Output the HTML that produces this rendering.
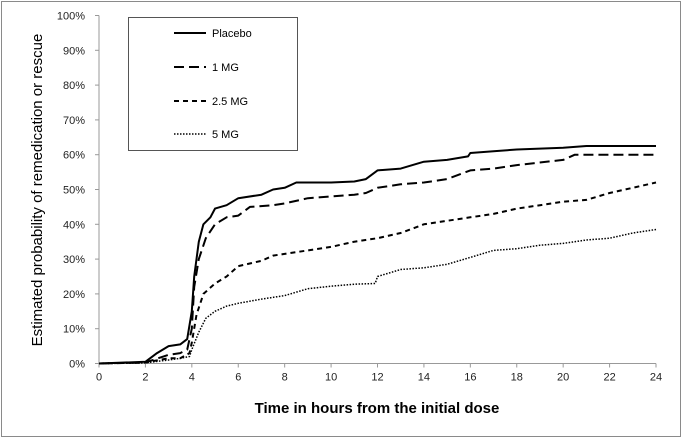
<!DOCTYPE html>
<html><head><meta charset="utf-8">
<style>
html,body{margin:0;padding:0;background:#fff;}
svg{display:block;font-family:"Liberation Sans",sans-serif;}
</style></head>
<body>
<svg id="chart" width="684" height="440" viewBox="0 0 684 440">
<rect x="1.5" y="1.5" width="679" height="435" fill="#fff" stroke="#8a8a8a" stroke-width="1"/>
<g id="axes"></g>
<g id="series"></g>
<text x="377" y="413" text-anchor="middle" font-size="15" font-weight="bold" fill="#000">Time in hours from the initial dose</text>
<text transform="translate(42,190) rotate(-90)" text-anchor="middle" font-size="15" fill="#000">Estimated probability of remedication or rescue</text>
<g>
<rect x="128.5" y="17.5" width="169" height="133" fill="#fff" stroke="#555" stroke-width="1"/>
<line x1="174" y1="33" x2="206" y2="33" stroke="#000" stroke-width="2"/>
<text x="212" y="37" font-size="11">Placebo</text>
<line x1="174" y1="67" x2="206" y2="67" stroke="#000" stroke-width="2" stroke-dasharray="10,5"/>
<text x="212" y="71" font-size="11">1 MG</text>
<line x1="174" y1="101" x2="206" y2="101" stroke="#000" stroke-width="2" stroke-dasharray="5,4"/>
<text x="212" y="105" font-size="11">2.5 MG</text>
<line x1="174" y1="134" x2="206" y2="134" stroke="#000" stroke-width="1.5" stroke-dasharray="1.5,1.5"/>
<text x="212" y="138" font-size="11">5 MG</text>
</g>
</svg>
<script>
const xTicks = [0,2,4,6,8,10,12,14,16,18,20,22,24];
const yTicks = [0,10,20,30,40,50,60,70,80,90,100];
const placeboT = [0,2,2.5,3,3.5,3.8,4,4.1,4.3,4.5,4.8,5,5.5,6,7,7.5,8,8.5,10,11,11.5,12,13,14,15,15.9,16,17,18,20,21,24];
const placeboV = [0,0.5,3,5,5.5,7,15,25,35,40,42,44.5,45.5,47.5,48.5,50,50.5,52,52,52.3,53,55.5,56,58,58.5,59.5,60.5,61,61.5,62,62.5,62.5];
const mg1T = [0,2,3,3.5,3.8,4,4.1,4.3,4.6,5,5.5,6,6.5,7.5,8,9,10,11,11.5,12,13,14,15,16,17,18,20,20.5,24];
const mg1V = [0,0.3,2.5,3,4,10,22,30,36,40,42,42.5,45,45.5,46,47.5,48,48.5,49,50.5,51.5,52,53,55.5,56,57,58.5,60,60];
const mg25T = [0,2,3,3.5,3.9,4,4.2,4.5,5,5.5,6,7,7.5,8,9,10,11,12,13,14,15,16,17,18,19,20,21,22,23,24];
const mg25V = [0,0.3,1.5,1.5,3,6,14,20,23,25,28,29.5,31,31.5,32.5,33.5,35,36,37.5,40,41,42,43,44.5,45.5,46.5,47,49,50.5,52];
const mg5T = [0,2,3,3.5,3.9,4,4.3,4.6,5,5.5,6,7,8,9,10,11,11.9,12,13,14,15,16,17,18,19,20,21,22,23,24];
const mg5V = [0,0.2,1,1.5,2,4,9,13,15,16.5,17.3,18.5,19.5,21.5,22.2,22.8,23,25,27,27.5,28.5,30.5,32.5,33,34,34.5,35.5,36,37.5,38.5];

const X0=99, X1=656, Y0=363.5, Y1=15.5;
function sx(t){return X0+(X1-X0)*t/24;}
function sy(v){return Y0-(Y0-Y1)*v/100;}
const NS="http://www.w3.org/2000/svg";
const axes=document.getElementById('axes');
const series=document.getElementById('series');
function mk(tag,attrs,parent){const e=document.createElementNS(NS,tag);for(const k in attrs)e.setAttribute(k,attrs[k]);parent.appendChild(e);return e;}

const yAxis=mk('line',{x1:X0,y1:Y1,x2:X0,y2:Y0,stroke:'#999','stroke-width':1},axes);


const xAxis=mk('line',{x1:X0,y1:Y0,x2:X1,y2:Y0,stroke:'#999','stroke-width':1},axes);


yTicks.forEach(v=>{
  const tk=mk('line',{x1:X0-4,y1:sy(v),x2:X0,y2:sy(v),stroke:'#999'},axes);
  
  
  const t=mk('text',{x:X0-14,y:sy(v)+4,'text-anchor':'end','font-size':11,fill:'#222'},axes);
  t.textContent=v+'%';
  
  
});
xTicks.forEach(v=>{
  const tk=mk('line',{x1:sx(v),y1:Y0,x2:sx(v),y2:Y0+4,stroke:'#999'},axes);
  
  
  const t=mk('text',{x:sx(v),y:Y0+17,'text-anchor':'middle','font-size':11,fill:'#222'},axes);
  t.textContent=v;
  
  
});
function draw(T,V,dash,w,name){
  const pts=T.map((t,i)=>sx(t).toFixed(1)+','+sy(V[i]).toFixed(1)).join(' ');
  const p=mk('polyline',{points:pts,fill:'none',stroke:'#000','stroke-width':w,'stroke-dasharray':dash,'stroke-linejoin':'round'},series);
  
  
}
draw(mg5T,mg5V,'1.5,1.5',1.5,'line-5mg');
draw(mg25T,mg25V,'5,4',2,'line-2-5mg');
draw(mg1T,mg1V,'10,5',2,'line-1mg');
draw(placeboT,placeboV,'none',2,'line-placebo');
</script>
</body></html>
